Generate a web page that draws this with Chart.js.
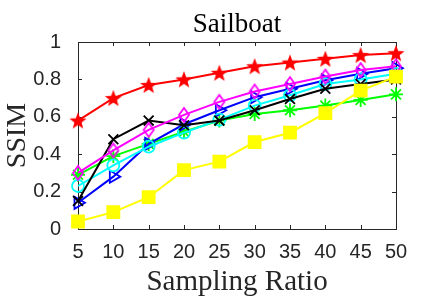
<!DOCTYPE html>
<html>
<head>
<meta charset="utf-8">
<script src="https://cdn.jsdelivr.net/npm/chart.js@4.4.0/dist/chart.umd.min.js"></script>
<style>
  html, body { margin: 0; padding: 0; background: #fff; }
  .chart-parent { width: 438px; height: 297px; }
</style>
</head>
<body>
<div class="chart-parent"><canvas id="myChart"></canvas></div>
<script>
// sampling ratios (x axis)
const ratios = [5, 10, 15, 20, 25, 30, 35, 40, 45, 50];
const yTicks = [0, 0.2, 0.4, 0.6, 0.8, 1];

// SSIM values, one array per curve
const redStar      = [0.58, 0.70, 0.77, 0.80, 0.835, 0.87, 0.89, 0.91, 0.93, 0.94];
const magentaDiam  = [0.30, 0.42, 0.53, 0.61, 0.68, 0.735, 0.775, 0.815, 0.85, 0.87];
const blueTri      = [0.14, 0.28, 0.455, 0.56, 0.635, 0.705, 0.75, 0.795, 0.83, 0.86];
const cyanCircle   = [0.23, 0.34, 0.44, 0.515, 0.585, 0.66, 0.715, 0.775, 0.80, 0.83];
const blackX       = [0.15, 0.48, 0.58, 0.555, 0.58, 0.635, 0.695, 0.75, 0.775, 0.80];
const greenStar    = [0.29, 0.39, 0.455, 0.52, 0.58, 0.615, 0.635, 0.66, 0.69, 0.72];
const yellowSquare = [0.04, 0.09, 0.17, 0.315, 0.36, 0.465, 0.515, 0.62, 0.74, 0.815];

function makeStar(r, color) {
  const c = document.createElement('canvas');
  const s = Math.ceil(r * 2 + 2);
  c.width = c.height = s;
  const g = c.getContext('2d');
  g.beginPath();
  for (let i = 0; i < 10; i++) {
    const a = -Math.PI / 2 + i * Math.PI / 5;
    const rr = i % 2 ? r * 0.42 : r;
    g.lineTo(s / 2 + rr * Math.cos(a), s / 2 + rr * Math.sin(a) + 0.8);
  }
  g.closePath();
  g.fillStyle = color;
  g.fill();
  return c;
}

function makeDiamond(w, h, color) {
  const c = document.createElement('canvas');
  c.width = w + 4; c.height = h + 4;
  const g = c.getContext('2d');
  const cx = c.width / 2, cy = c.height / 2;
  g.beginPath();
  g.moveTo(cx, cy - h / 2);
  g.lineTo(cx + w / 2, cy);
  g.lineTo(cx, cy + h / 2);
  g.lineTo(cx - w / 2, cy);
  g.closePath();
  g.strokeStyle = color;
  g.lineWidth = 1.8;
  g.stroke();
  return c;
}

const axisColor = '#262626';

const boxPlugin = {
  id: 'box',
  beforeDatasetsDraw(chart) {
    const { ctx, chartArea: a, scales: { x, y } } = chart;
    ctx.save();
    ctx.strokeStyle = axisColor;
    ctx.lineWidth = 1;
    ctx.strokeRect(a.left + 0.5, a.top + 0.5, a.right - a.left, a.bottom - a.top);
    ctx.beginPath();
    const len = 4;
    ratios.forEach((r, i) => {
      const px = Math.round(x.getPixelForValue(i)) + 0.5;
      ctx.moveTo(px, a.bottom); ctx.lineTo(px, a.bottom - len);
      ctx.moveTo(px, a.top); ctx.lineTo(px, a.top + len);
    });
    yTicks.forEach(v => {
      const py = Math.round(y.getPixelForValue(v)) + 0.5;
      ctx.moveTo(a.left, py); ctx.lineTo(a.left + len, py);
      ctx.moveTo(a.right, py); ctx.lineTo(a.right - len, py);
    });
    ctx.stroke();
    ctx.restore();
  },
  afterDraw(chart) {
    const { ctx, chartArea: a } = chart;
    ctx.save();
    ctx.font = '27px "Liberation Serif"';
    ctx.fillStyle = '#000';
    ctx.textAlign = 'center';
    ctx.textBaseline = 'alphabetic';
    ctx.fillText('Sailboat', (a.left + a.right) / 2, 32);
    ctx.restore();
  }
};

function line(data, color, style, radius, order, extra) {
  return Object.assign({
    data: data,
    borderColor: color,
    backgroundColor: 'rgba(0,0,0,0)',
    borderWidth: 2,
    pointStyle: style,
    pointRadius: radius,
    pointBorderColor: color,
    pointBackgroundColor: 'rgba(0,0,0,0)',
    pointBorderWidth: 1.8,
    tension: 0,
    order: order
  }, extra || {});
}

const ctx = document.getElementById('myChart');
const myChart = new Chart(ctx, {
  type: 'line',
  data: {
    labels: ratios,
    datasets: [
      line(redStar, '#ff0000', makeStar(9, '#ff0000'), 9, 0),
      line(yellowSquare, '#ffff00', 'rect', 8.5, 1, { pointBackgroundColor: '#ffff00' }),
      line(magentaDiam, '#ff00ff', makeDiamond(10, 14, '#ff00ff'), 7, 2),
      line(blackX, '#000000', 'crossRot', 7, 3),
      line(cyanCircle, '#00ffff', 'circle', 6, 4),
      line(blueTri, '#0000ff', 'triangle', 7, 5, { pointRotation: 90 }),
      line(greenStar, '#00ff00', 'star', 7, 6),
    ],
  },
  options: {
    responsive: true,
    maintainAspectRatio: false,
    animation: false,
    events: [],
    layout: { padding: { top: 42, right: 42, left: 0, bottom: 0 } },
    plugins: {
      legend: { display: false },
      title: { display: false },
      tooltip: { enabled: false },
    },
    scales: {
      x: {
        offset: false,
        grid: { display: false },
        border: { display: false },
        ticks: {
          color: axisColor,
          font: { family: 'Liberation Sans', size: 20 },
          padding: 3,
          maxRotation: 0,
          autoSkip: false,
        },
        title: {
          display: true,
          text: 'Sampling Ratio',
          color: axisColor,
          font: { family: 'Liberation Serif', size: 29, lineHeight: 1 },
          padding: { top: 0, bottom: 0 },
        },
        afterFit(scale) { scale.height = 68; },
      },
      y: {
        min: 0,
        max: 1,
        grid: { display: false },
        border: { display: false },
        ticks: {
          stepSize: 0.2,
          color: axisColor,
          font: { family: 'Liberation Sans', size: 20 },
          padding: 9,
          callback: v => String(Math.round(v * 10) / 10),
        },
        title: {
          display: true,
          text: 'SSIM',
          color: axisColor,
          font: { family: 'Liberation Serif', size: 28, lineHeight: 1 },
          padding: { top: 4, bottom: 0 },
        },
        afterFit(scale) { scale.width = 78; },
      },
    },
  },
  plugins: [boxPlugin],
});
</script>
</body>
</html>
